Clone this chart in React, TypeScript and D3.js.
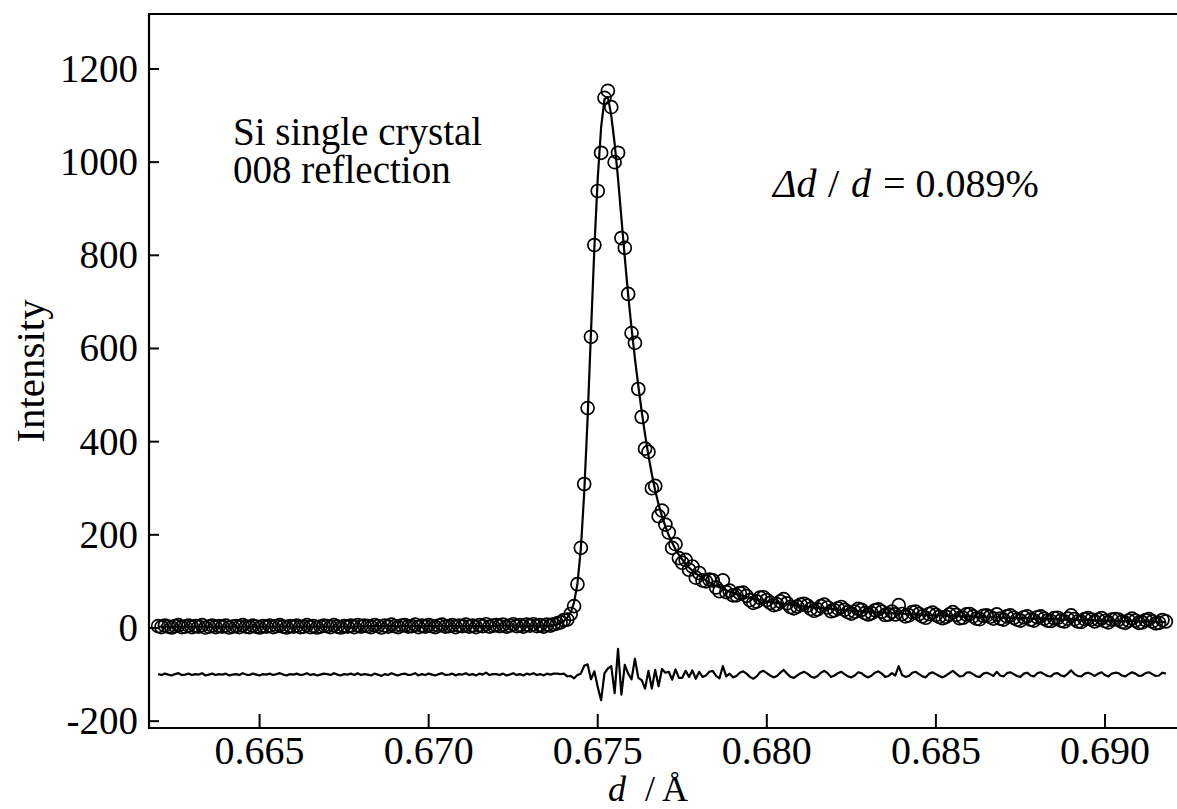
import * as d3 from 'd3';

// d-spacing grid of the measured profile (Å)
const dValues = [
  0.6620, 0.6621, 0.6622, 0.6623, 0.6624, 0.6625, 0.6626, 0.6627, 0.6628, 0.6629,
  0.6630, 0.6631, 0.6632, 0.6633, 0.6634, 0.6635, 0.6636, 0.6637, 0.6638, 0.6639,
  0.6640, 0.6641, 0.6642, 0.6643, 0.6644, 0.6645, 0.6646, 0.6647, 0.6648, 0.6649,
  0.6650, 0.6651, 0.6652, 0.6653, 0.6654, 0.6655, 0.6656, 0.6657, 0.6658, 0.6659,
  0.6660, 0.6661, 0.6662, 0.6663, 0.6664, 0.6665, 0.6666, 0.6667, 0.6668, 0.6669,
  0.6670, 0.6671, 0.6672, 0.6673, 0.6674, 0.6675, 0.6676, 0.6677, 0.6678, 0.6679,
  0.6680, 0.6681, 0.6682, 0.6683, 0.6684, 0.6685, 0.6686, 0.6687, 0.6688, 0.6689,
  0.6690, 0.6691, 0.6692, 0.6693, 0.6694, 0.6695, 0.6696, 0.6697, 0.6698, 0.6699,
  0.6700, 0.6701, 0.6702, 0.6703, 0.6704, 0.6705, 0.6706, 0.6707, 0.6708, 0.6709,
  0.6710, 0.6711, 0.6712, 0.6713, 0.6714, 0.6715, 0.6716, 0.6717, 0.6718, 0.6719,
  0.6720, 0.6721, 0.6722, 0.6723, 0.6724, 0.6725, 0.6726, 0.6727, 0.6728, 0.6729,
  0.6730, 0.6731, 0.6732, 0.6733, 0.6734, 0.6735, 0.6736, 0.6737, 0.6738, 0.6739,
  0.6740, 0.6741, 0.6742, 0.6743, 0.6744, 0.6745, 0.6746, 0.6747, 0.6748, 0.6749,
  0.6750, 0.6751, 0.6752, 0.6753, 0.6754, 0.6755, 0.6756, 0.6757, 0.6758, 0.6759,
  0.6760, 0.6761, 0.6762, 0.6763, 0.6764, 0.6765, 0.6766, 0.6767, 0.6768, 0.6769,
  0.6770, 0.6771, 0.6772, 0.6773, 0.6774, 0.6775, 0.6776, 0.6777, 0.6778, 0.6779,
  0.6780, 0.6781, 0.6782, 0.6783, 0.6784, 0.6785, 0.6786, 0.6787, 0.6788, 0.6789,
  0.6790, 0.6791, 0.6792, 0.6793, 0.6794, 0.6795, 0.6796, 0.6797, 0.6798, 0.6799,
  0.6800, 0.6801, 0.6802, 0.6803, 0.6804, 0.6805, 0.6806, 0.6807, 0.6808, 0.6809,
  0.6810, 0.6811, 0.6812, 0.6813, 0.6814, 0.6815, 0.6816, 0.6817, 0.6818, 0.6819,
  0.6820, 0.6821, 0.6822, 0.6823, 0.6824, 0.6825, 0.6826, 0.6827, 0.6828, 0.6829,
  0.6830, 0.6831, 0.6832, 0.6833, 0.6834, 0.6835, 0.6836, 0.6837, 0.6838, 0.6839,
  0.6840, 0.6841, 0.6842, 0.6843, 0.6844, 0.6845, 0.6846, 0.6847, 0.6848, 0.6849,
  0.6850, 0.6851, 0.6852, 0.6853, 0.6854, 0.6855, 0.6856, 0.6857, 0.6858, 0.6859,
  0.6860, 0.6861, 0.6862, 0.6863, 0.6864, 0.6865, 0.6866, 0.6867, 0.6868, 0.6869,
  0.6870, 0.6871, 0.6872, 0.6873, 0.6874, 0.6875, 0.6876, 0.6877, 0.6878, 0.6879,
  0.6880, 0.6881, 0.6882, 0.6883, 0.6884, 0.6885, 0.6886, 0.6887, 0.6888, 0.6889,
  0.6890, 0.6891, 0.6892, 0.6893, 0.6894, 0.6895, 0.6896, 0.6897, 0.6898, 0.6899,
  0.6900, 0.6901, 0.6902, 0.6903, 0.6904, 0.6905, 0.6906, 0.6907, 0.6908, 0.6909,
  0.6910, 0.6911, 0.6912, 0.6913, 0.6914, 0.6915, 0.6916, 0.6917, 0.6918,
];

// observed intensity (open circles)
const observed = [
  4, 2, 5, 3, 1, 4, 6, 2, 3, 5,
  2, 4, 3, 6, 1, 3, 5, 2, 4, 3,
  5, 1, 3, 4, 2, 6, 3, 2, 5, 3,
  1, 4, 3, 5, 2, 4, 6, 3, 1, 4,
  3, 5, 2, 3, 6, 2, 4, 1, 3, 5,
  4, 2, 6, 3, 1, 4, 3, 5, 2, 6,
  3, 5, 4, 2, 6, 4, 1, 5, 3, 7,
  4, 2, 5, 6, 3, 4, 7, 2, 5, 3,
  6, 4, 2, 5, 7, 3, 4, 6, 2, 5,
  4, 7, 3, 5, 2, 6, 4, 8, 3, 5,
  6, 4, 7, 3, 5, 8, 4, 6, 3, 7,
  5, 8, 4, 6, 3, 7, 5, 8, 10, 12,
  17, 18, 30, 47, 94, 172, 309, 472, 625, 822,
  938, 1020, 1138, 1153, 1118, 1000, 1020, 837, 816, 717,
  633, 612, 513, 453, 385, 378, 300, 305, 240, 252,
  222, 205, 172, 180, 150, 140, 146, 125, 132, 108,
  118, 102, 100, 104, 102, 87, 79, 102, 77, 80,
  70, 70, 75, 76, 69, 60, 54, 57, 65, 66,
  60, 54, 49, 51, 57, 62, 53, 45, 42, 46,
  50, 52, 48, 41, 37, 40, 47, 50, 44, 36,
  38, 42, 45, 39, 34, 31, 35, 41, 39, 32,
  29, 32, 38, 40, 35, 28, 29, 35, 29, 49,
  30, 25, 27, 34, 35, 30, 25, 22, 30, 33,
  28, 24, 21, 24, 29, 34, 28, 21, 22, 29,
  30, 25, 20, 19, 26, 27, 24, 20, 29, 20,
  18, 25, 27, 22, 18, 16, 23, 25, 18, 16,
  23, 25, 20, 16, 15, 21, 22, 16, 14, 20,
  27, 19, 14, 13, 19, 21, 18, 14, 18, 21,
  15, 12, 18, 19, 18, 13, 11, 16, 20, 16,
  11, 12, 17, 19, 14, 10, 11, 17, 14,
];

// calculated profile (solid line)
const calculated = [
  3, 3, 3, 3, 3, 3, 3, 3, 3, 3,
  3, 3, 3, 3, 3, 3, 3, 3, 3, 3,
  3, 3, 3, 3, 3, 3, 3, 3, 3, 3,
  3, 3, 3, 3, 3, 3, 3, 3, 3, 3,
  3, 3, 3, 3, 3, 3, 3, 3, 3, 3,
  3, 3, 3, 3, 3, 3, 3, 3, 3, 3,
  4, 4, 4, 4, 4, 4, 4, 4, 4, 4,
  4, 4, 4, 4, 4, 4, 4, 4, 4, 4,
  4, 4, 4, 4, 4, 4, 4, 4, 4, 4,
  4, 4, 4, 4, 4, 4, 4, 4, 4, 4,
  5, 5, 5, 5, 5, 5, 5, 5, 5, 5,
  5, 5, 5, 5, 5, 5, 5, 6, 8, 11,
  15, 22, 33, 55, 95, 170, 290, 450, 635, 815,
  965, 1075, 1135, 1140, 1100, 1040, 965, 880, 795, 715,
  643, 578, 520, 465, 415, 370, 330, 295, 265, 240,
  218, 199, 183, 169, 157, 147, 138, 130, 123, 117,
  112, 107, 102, 98, 94, 90, 87, 84, 81, 78,
  76, 73, 71, 69, 67, 65, 63, 61, 60, 58,
  57, 56, 55, 54, 53, 52, 51, 50, 49, 48,
  47, 46, 46, 45, 44, 43, 43, 42, 41, 41,
  40, 39, 39, 38, 38, 37, 37, 36, 36, 35,
  35, 34, 34, 33, 33, 33, 32, 32, 31, 31,
  31, 30, 30, 30, 29, 29, 29, 28, 28, 28,
  27, 27, 27, 26, 26, 26, 26, 25, 25, 25,
  25, 24, 24, 24, 24, 23, 23, 23, 23, 22,
  22, 22, 22, 21, 21, 21, 21, 21, 20, 20,
  20, 20, 19, 19, 19, 19, 19, 18, 18, 18,
  18, 18, 17, 17, 17, 17, 17, 17, 16, 16,
  16, 16, 16, 15, 15, 15, 15, 15, 15, 14,
  14, 14, 14, 14, 13, 13, 13, 13, 12,
];

// the difference curve is plotted shifted down by this amount
const differenceOffset = -100;

const xTicks = [0.665, 0.67, 0.675, 0.68, 0.685, 0.69];
const yTicks = [-200, 0, 200, 400, 600, 800, 1000, 1200];
const xDomain = [0.66173, 0.69213];
const yDomain = [-214.7, 1318];

const serif = '"Liberation Serif"';

export default function App() {
  const width = 1177;
  const height = 809;
  const left = 149;
  const right = 1177;
  const top = 14;
  const bottom = 728;

  const x = d3.scaleLinear().domain(xDomain).range([left, right]);
  const y = d3.scaleLinear().domain(yDomain).range([bottom, top]);

  const points = dValues.map((d, i) => ({
    d,
    obs: observed[i],
    calc: calculated[i],
    diff: observed[i] - calculated[i] + differenceOffset,
  }));

  const calcLine = d3
    .line<any>()
    .x((p) => x(p.d))
    .y((p) => y(p.calc));
  const diffLine = d3
    .line<any>()
    .x((p) => x(p.d))
    .y((p) => y(p.diff));

  return (
    <svg
      width={width}
      height={height}
      style={{ position: 'absolute', left: 0, top: 0, background: '#fff' }}
    >
      {/* frame */}
      <path
        d={`M${right + 2},${top} H${left} V${bottom} H${right + 2}`}
        fill="none"
        stroke="#000"
        strokeWidth={2.2}
      />

      {/* y ticks */}
      {yTicks.map((v) => (
        <g key={`y${v}`}>
          <line x1={left} x2={left + 10} y1={y(v)} y2={y(v)} stroke="#000" strokeWidth={2} />
          <text x={138} y={y(v) + 13} textAnchor="end" fontSize={39} fontFamily={serif} fill="#000">
            {String(v)}
          </text>
        </g>
      ))}

      {/* x ticks */}
      {xTicks.map((v) => (
        <g key={`x${v}`}>
          <line x1={x(v)} x2={x(v)} y1={bottom} y2={bottom - 14} stroke="#000" strokeWidth={2} />
          <text x={x(v)} y={764} textAnchor="middle" fontSize={40} fontFamily={serif} fill="#000">
            {d3.format('.3f')(v)}
          </text>
        </g>
      ))}

      {/* calculated profile */}
      <path d={calcLine(points) ?? ''} fill="none" stroke="#000" strokeWidth={2.2} strokeLinejoin="round" />

      {/* observed points */}
      {points.map((p, i) => (
        <circle key={i} cx={x(p.d)} cy={y(p.obs)} r={6.5} fill="none" stroke="#000" strokeWidth={1.7} />
      ))}

      {/* difference curve */}
      <path d={diffLine(points) ?? ''} fill="none" stroke="#000" strokeWidth={2.2} strokeLinejoin="round" />

      {/* axis titles */}
      <text
        transform="translate(44, 371) rotate(-90)"
        textAnchor="middle"
        fontSize={41}
        fontFamily={serif}
        fill="#000"
      >
        Intensity
      </text>
      <text x={608} y={801} fontSize={36} fontFamily={serif} fill="#000">
        <tspan fontStyle="italic">d</tspan>
        <tspan x={645}>/</tspan>
        <tspan x={662}>Å</tspan>
      </text>

      {/* annotations */}
      <text x={233} y={145} fontSize={39} fontFamily={serif} fill="#000">
        Si single crystal
      </text>
      <text x={233} y={183} fontSize={39} fontFamily={serif} fill="#000">
        008 reflection
      </text>
      <text y={197} fontSize={40} fontFamily={serif} fill="#000">
        <tspan x={773} fontStyle="italic">Δd</tspan>
        <tspan x={828}>/</tspan>
        <tspan x={851} fontStyle="italic">d</tspan>
        <tspan x={883}>= 0.089%</tspan>
      </text>
    </svg>
  );
}
